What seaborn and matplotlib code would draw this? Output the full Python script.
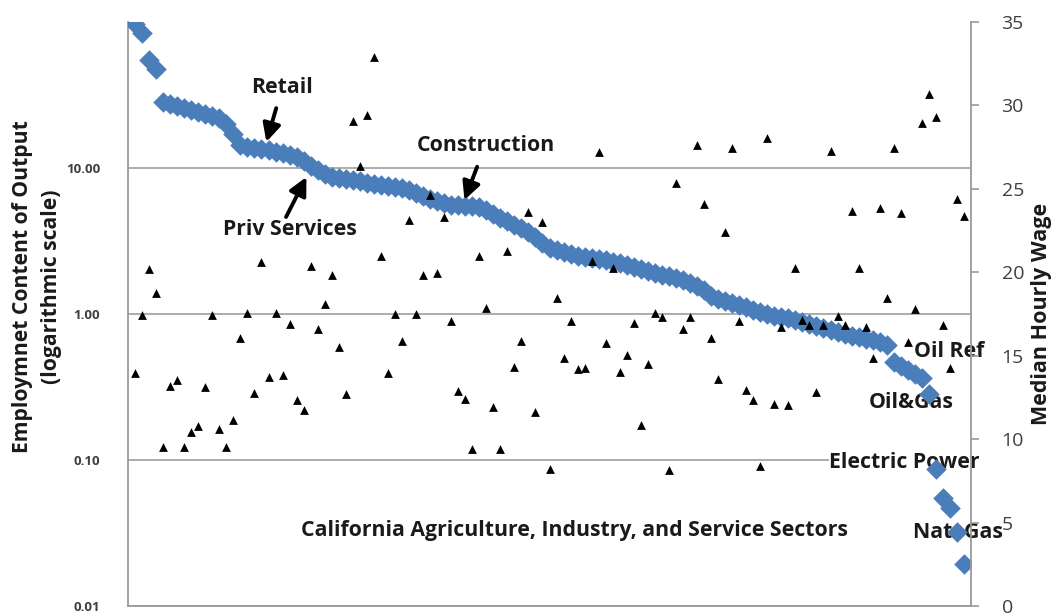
import matplotlib
matplotlib.use("Agg")
import matplotlib.pyplot as plt
from matplotlib.ticker import FixedLocator, FixedFormatter, NullLocator
import pandas as pd
import seaborn as sns

# Sectors ranked by employment content of output (1 = most labour intensive)
sector_rank = list(range(1, 120))

# Employment content of output (jobs per unit of output), log axis
employment_content = [
    96.4, 83.7, 54.7, 47.5, 28.3, 27.4, 26.5, 25.7, 24.9, 24.1,
    23.4, 22.7, 22.0, 20.0, 17.1, 14.4, 13.9, 13.7, 13.5, 13.3,
    12.9, 12.7, 12.3, 11.9, 11.2, 10.3, 9.69, 9.10, 8.68, 8.54,
    8.41, 8.28, 8.15, 7.90, 7.77, 7.65, 7.53, 7.42, 7.30, 7.07,
    6.75, 6.44, 6.14, 5.95, 5.77, 5.59, 5.55, 5.50, 5.48, 5.41,
    5.16, 4.85, 4.55, 4.34, 4.08, 3.89, 3.65, 3.38, 3.07, 2.84,
    2.75, 2.67, 2.58, 2.50, 2.46, 2.43, 2.39, 2.35, 2.28, 2.24,
    2.17, 2.11, 2.04, 1.98, 1.92, 1.86, 1.83, 1.77, 1.72, 1.64,
    1.56, 1.47, 1.33, 1.27, 1.23, 1.19, 1.16, 1.12, 1.07, 1.04,
    1.00, 0.974, 0.958, 0.943, 0.914, 0.886, 0.858, 0.832, 0.806, 0.781,
    0.757, 0.733, 0.711, 0.700, 0.678, 0.667, 0.647, 0.617, 0.472, 0.443,
    0.416, 0.391, 0.367, 0.281, 0.0862, 0.0546, 0.0467, 0.0320, 0.0193,
]

# Median hourly wage by sector (dollars), right axis
median_wage = [
    13.99, 17.44, 20.19, 18.77, 9.55, 13.20, 13.54, 9.55, 10.43, 10.76,
    13.13, 17.44, 10.61, 9.55, 11.12, 16.06, 17.53, 12.75, 20.60, 13.72,
    17.53, 13.87, 16.92, 12.36, 11.73, 20.35, 16.58, 18.12, 19.81, 15.52,
    12.68, 29.04, 26.35, 29.44, 32.89, 20.98, 13.99, 17.49, 15.88, 23.13,
    17.49, 19.81, 24.64, 19.97, 23.31, 17.08, 12.91, 12.41, 9.41, 20.98,
    17.87, 11.91, 9.41, 21.25, 14.33, 15.88, 23.64, 11.62, 23.01, 8.23,
    18.46, 14.85, 17.08, 14.21, 14.28, 20.65, 27.18, 15.75, 20.26, 14.05,
    15.05, 16.97, 10.83, 14.49, 17.55, 17.31, 8.17, 25.38, 16.63, 17.31,
    27.63, 24.07, 16.06, 13.59, 22.40, 27.45, 17.10, 12.97, 12.36, 8.40,
    28.03, 12.12, 16.73, 12.06, 20.24, 17.17, 16.82, 12.83, 16.82, 27.29,
    17.40, 16.82, 23.65, 20.24, 16.73, 14.86, 23.88, 18.45, 27.45, 23.54,
    15.85, 17.80, 28.93, 30.70, 29.28, 16.82, 14.26, 24.38, 23.40,
]

left_ticks = [0.01, 0.1, 1, 10]
left_tick_labels = ["0.01", "0.10", "1.00", "10.00"]
right_ticks = [0, 5, 10, 15, 20, 25, 30, 35]

df = pd.DataFrame({
    "sector": sector_rank,
    "employment": employment_content,
    "wage": median_wage,
})

sns.set_style("white")
plt.rcParams["font.family"] = ["Open Sans", "DejaVu Sans"]

BLUE = "#4A7EBB"
AXIS_GRAY = "#9a9a9a"
TEXT_DARK = "#1a1a1a"

fig = plt.figure(figsize=(10.53, 6.16), dpi=100)
ax = fig.add_axes([128 / 1053, 10 / 616, 843 / 1053, 584 / 616])

# Employment content: blue diamonds on a log scale
sns.scatterplot(data=df, x="sector", y="employment", marker="D", s=110,
                color=BLUE, linewidth=0, ax=ax, legend=False, zorder=3)
ax.set_yscale("log")
ax.set_ylim(0.01, 100)
ax.set_xlim(0, 120)
ax.set_xticks([])
ax.yaxis.set_major_locator(FixedLocator(left_ticks))
ax.yaxis.set_major_formatter(FixedFormatter(left_tick_labels))
ax.yaxis.set_minor_locator(NullLocator())
ax.tick_params(axis="y", length=0, pad=20, labelsize=9.5, labelcolor="#404040")
for lbl in ax.get_yticklabels():
    lbl.set_fontweight("bold")
ax.grid(axis="y", which="major", color="#a6a6a6", lw=1.3, zorder=0)
ax.set_axisbelow(True)
ax.set_xlabel("")
ax.set_ylabel("")
for side in ["top", "right"]:
    ax.spines[side].set_visible(False)
for side in ["left", "bottom"]:
    ax.spines[side].set_color(AXIS_GRAY)
    ax.spines[side].set_linewidth(1.3)

# Median hourly wage: black triangles on the right axis
ax2 = ax.twinx()
sns.scatterplot(data=df, x="sector", y="wage", marker="^", s=40,
                color="black", linewidth=0, ax=ax2, legend=False, zorder=4)
ax2.set_ylim(0, 35)
ax2.set_xlim(0, 120)
ax2.set_yticks(right_ticks)
ax2.tick_params(axis="y", direction="out", length=6, width=1.2, color=AXIS_GRAY,
                pad=16, labelsize=14, labelcolor="#404040")
ax2.set_xlabel("")
ax2.set_ylabel("")
for side in ["top", "left", "bottom"]:
    ax2.spines[side].set_visible(False)
ax2.spines["right"].set_color(AXIS_GRAY)
ax2.spines["right"].set_linewidth(1.3)

# Axis titles
fig.text(37 / 1053, 1 - 287 / 616,
         "Employmnet Content of Output\n(logarithmic scale)",
         rotation=90, ha="center", va="center", multialignment="center",
         fontsize=15.2, fontweight="bold", color=TEXT_DARK, linespacing=1.45)
fig.text(1042 / 1053, 1 - 314 / 616, "Median Hourly Wage",
         rotation=90, ha="center", va="center",
         fontsize=15.5, fontweight="bold", color=TEXT_DARK)

# Sector callouts
label_kw = dict(transform=ax.transAxes, fontsize=15.3, fontweight="bold",
                color=TEXT_DARK, ha="center", va="center", zorder=2)
ax.text(0.183, 0.887, "Retail", **label_kw)
ax.text(0.425, 0.788, "Construction", **label_kw)
ax.text(0.192, 0.6455, "Priv Services", **label_kw)
ax.text(0.530, 0.130, "California Agriculture, Industry, and Service Sectors", **label_kw)
ax.text(0.974, 0.435, "Oil Ref", **label_kw)
ax.text(0.929, 0.349, "Oil&Gas", **label_kw)
ax.text(0.921, 0.245, "Electric Power",
        bbox=dict(facecolor="white", edgecolor="none", pad=0.5), **label_kw)
ax.text(0.985, 0.125, "Nat. Gas", **label_kw)

arrow_kw = dict(arrowstyle="-|>,head_length=0.9,head_width=0.45", color="black",
                lw=2.8, shrinkA=0, shrinkB=0, mutation_scale=12)
ax.annotate("", xy=(19.7, 15.1), xytext=(21.1, 25.7), arrowprops=arrow_kw, zorder=5)
ax.annotate("", xy=(25.4, 8.68), xytext=(22.5, 4.62), arrowprops=arrow_kw, zorder=5)
ax.annotate("", xy=(47.9, 6.04), xytext=(49.7, 10.2), arrowprops=arrow_kw, zorder=5)

fig.savefig("out.png", dpi=100)
